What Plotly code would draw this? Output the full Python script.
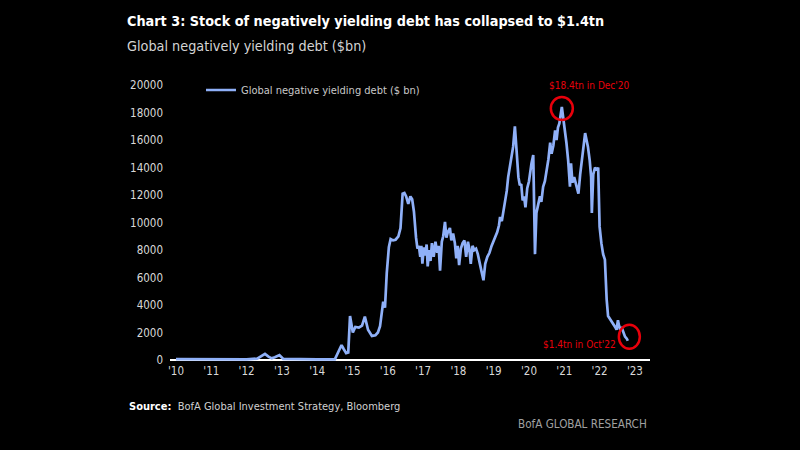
import plotly.graph_objects as go

# ---- data ----
years = [
    2010.0, 2010.5, 2011.0, 2011.5, 2012.0, 2012.3, 2012.45, 2012.52, 2012.62, 2012.71,
    2012.8, 2012.93, 2013.04, 2013.5, 2014.0, 2014.5, 2014.55, 2014.62, 2014.69, 2014.75,
    2014.82, 2014.88, 2014.93, 2015.01, 2015.08, 2015.18, 2015.27, 2015.35, 2015.44, 2015.55,
    2015.65, 2015.72, 2015.78, 2015.87, 2015.92, 2015.97, 2016.03, 2016.08, 2016.15, 2016.22,
    2016.3, 2016.36, 2016.42, 2016.47, 2016.52, 2016.58, 2016.64, 2016.69, 2016.74, 2016.8,
    2016.84, 2016.88, 2016.92, 2016.95, 2016.98, 2017.02, 2017.06, 2017.1, 2017.13, 2017.17,
    2017.21, 2017.25, 2017.3, 2017.35, 2017.4, 2017.44, 2017.48, 2017.53, 2017.57, 2017.62,
    2017.66, 2017.7, 2017.76, 2017.8, 2017.85, 2017.9, 2017.94, 2017.98, 2018.02, 2018.07,
    2018.12, 2018.17, 2018.22, 2018.27, 2018.31, 2018.35, 2018.4, 2018.45, 2018.5, 2018.55,
    2018.6, 2018.65, 2018.71, 2018.76, 2018.82, 2018.88, 2018.94, 2019.0, 2019.04, 2019.1,
    2019.15, 2019.18, 2019.23, 2019.28, 2019.32, 2019.37, 2019.41, 2019.46, 2019.5, 2019.55,
    2019.6, 2019.63, 2019.67, 2019.7, 2019.74, 2019.78, 2019.82, 2019.86, 2019.9, 2019.95,
    2020.0, 2020.03, 2020.07, 2020.12, 2020.15, 2020.17, 2020.21, 2020.26, 2020.31, 2020.35,
    2020.4, 2020.45, 2020.5, 2020.55, 2020.6, 2020.64, 2020.69, 2020.74, 2020.78, 2020.82,
    2020.86, 2020.9, 2020.93, 2020.97, 2021.02, 2021.06, 2021.11, 2021.16, 2021.19, 2021.23,
    2021.28, 2021.33, 2021.4, 2021.45, 2021.5, 2021.55, 2021.59, 2021.63, 2021.67, 2021.72,
    2021.76, 2021.78, 2021.82, 2021.87, 2021.92, 2021.96, 2022.0, 2022.05, 2022.1, 2022.15,
    2022.18, 2022.2, 2022.24, 2022.29, 2022.34, 2022.39, 2022.44, 2022.48, 2022.52, 2022.55,
    2022.58, 2022.62, 2022.67, 2022.72, 2022.77, 2022.8,
]
debt_bn = [
    60, 50, 40, 60, 50, 100, 300, 440, 250, 120,
    200, 360, 80, 50, 40, 50, 300, 700, 1090, 800,
    500, 550, 3200, 2000, 2400, 2350, 2500, 3150, 2200, 1750,
    1800, 2000, 2450, 4250, 3800, 6300, 8200, 8800, 8700, 8750,
    9000, 9600, 12100, 12150, 11900, 11350, 11900, 11700, 10800, 8900,
    8100, 8300, 7500, 8300, 7000, 8200, 7600, 8400, 6800, 8000,
    7200, 8500, 7500, 8600, 7800, 8300, 6500, 8600, 9000, 10050,
    8900, 9300, 9600, 8700, 9200, 8500, 7400, 8300, 6900, 8100,
    8500, 8700, 7500, 8600, 8100, 7000, 8300, 8000, 8100, 7700,
    7000, 6500, 5800, 7000, 7500, 7800, 8300, 8700, 9000, 9300,
    9800, 10400, 10100, 10800, 11400, 12300, 13300, 14000, 14800, 15500,
    17000, 15700, 14200, 13300, 12700, 12800, 11600, 11900, 11100, 12500,
    13000, 13800, 14300, 14900, 11000, 7700, 10700, 11300, 11900, 11500,
    12600, 13000, 13800, 14600, 15800, 15000, 15600, 16700, 16000, 16900,
    17200, 17800, 18400, 17600, 16700, 15800, 14500, 12600, 14300, 12900,
    13300, 12800, 12100, 13500, 14500, 15600, 16500, 16000, 15500, 14500,
    13300, 10700, 13500, 14000, 13800, 14000, 9700, 8500, 7700, 7300,
    5500, 4400, 3200, 3000, 2900, 2600, 2400, 2200, 2900, 2500,
    2200, 2400, 2000, 1700, 1550, 1400,
]
tick_years = list(range(2010, 2024))
tick_labels = ["'10", "'11", "'12", "'13", "'14", "'15", "'16", "'17", "'18", "'19",
               "'20", "'21", "'22", "'23"]
y_ticks = list(range(0, 20001, 2000))
y_tick_labels = [str(v) for v in y_ticks]

series_name = "Global negative yielding debt ($ bn)"
title_text = "Chart 3: Stock of negatively yielding debt has collapsed to $1.4tn"
subtitle_text = "Global negatively yielding debt ($bn)"
peak_label = "$18.4tn in Dec'20"
last_label = "$1.4tn in Oct'22"

FONT = "DejaVu Sans Condensed, Liberation Sans Narrow, sans-serif"
LINE_COLOR = "#8FB0F8"
RED = "#E8000B"

fig = go.Figure()
fig.add_trace(go.Scatter(
    x=years, y=debt_bn, mode="lines", name=series_name,
    line=dict(color=LINE_COLOR, width=2.7),
    showlegend=True,
))

peak_i = max(range(len(debt_bn)), key=debt_bn.__getitem__)
last_i = len(debt_bn) - 1

# red circles around peak and latest value
fig.add_shape(type="circle", xref="x", yref="y", xsizemode="pixel", ysizemode="pixel",
              xanchor=years[peak_i], yanchor=debt_bn[peak_i],
              x0=-11, x1=11, y0=-13, y1=10,
              line=dict(color=RED, width=2.5))
fig.add_shape(type="circle", xref="x", yref="y", xsizemode="pixel", ysizemode="pixel",
              xanchor=years[last_i], yanchor=debt_bn[last_i],
              x0=-9, x1=12, y0=-8, y1=16,
              line=dict(color=RED, width=2.5))

fig.add_annotation(x=years[peak_i], y=debt_bn[peak_i], xref="x", yref="y",
                   text=peak_label, showarrow=False, xanchor="center", yanchor="middle",
                   xshift=27, yshift=22, font=dict(family=FONT, size=10, color=RED))
fig.add_annotation(x=years[last_i], y=debt_bn[last_i], xref="x", yref="y",
                   text=last_label, showarrow=False, xanchor="right", yanchor="middle",
                   xshift=-10, yshift=-4, font=dict(family=FONT, size=10, color=RED))

# title, subtitle, source, branding (paper coords)
L, R, T, B = 170, 150, 80, 88
W, H = 800, 450
pw, ph = W - L - R, H - T - B


def px(xp):
    return (xp - L) / pw


def py(yp):
    return (H - B - yp) / ph


fig.add_annotation(x=px(125), y=py(21), xref="paper", yref="paper", text="<b>" + title_text + "</b>",
                   showarrow=False, xanchor="left", yanchor="middle",
                   font=dict(family=FONT, size=14.3, color="#FFFFFF"))
fig.add_annotation(x=px(125), y=py(46), xref="paper", yref="paper", text=subtitle_text,
                   showarrow=False, xanchor="left", yanchor="middle",
                   font=dict(family=FONT, size=14.3, color="#D4D4D4"))
fig.add_annotation(x=px(127), y=py(406), xref="paper", yref="paper",
                   text="<b>Source:</b>  <span style='color:#D0D0D0'>BofA Global Investment Strategy, Bloomberg</span>",
                   showarrow=False, xanchor="left", yanchor="middle",
                   font=dict(family=FONT, size=11, color="#FFFFFF"))
fig.add_annotation(x=px(649), y=py(424), xref="paper", yref="paper", text="BofA GLOBAL RESEARCH",
                   showarrow=False, xanchor="right", yanchor="middle",
                   font=dict(family=FONT, size=11.6, color="#A0A0A0"))

x_scale = 35.3  # px per year
x0 = 2010 - (176 - L) / x_scale
x1 = x0 + pw / x_scale
y_scale = 275 / 20000
y_bottom = -(H - B - 360) / y_scale
y_top = y_bottom + ph / y_scale

fig.update_layout(
    width=W, height=H,
    margin=dict(l=L, r=R, t=T, b=B, pad=0),
    paper_bgcolor="#000000", plot_bgcolor="#000000",
    font=dict(family=FONT, size=11.5, color="#D8D8D8"),
    showlegend=True,
    legend=dict(x=px(201), y=py(90), xanchor="left", yanchor="middle",
                bgcolor="rgba(0,0,0,0)", borderwidth=0,
                font=dict(family=FONT, size=11, color="#C8C8C8"),
                itemwidth=30),
    xaxis=dict(range=[x0, x1], tickmode="array", tickvals=tick_years, ticktext=tick_labels,
               showgrid=False, zeroline=False, showline=False, ticks="",
               tickfont=dict(family=FONT, size=11.5, color="#D8D8D8")),
    yaxis=dict(range=[y_bottom, y_top], tickmode="array", tickvals=y_ticks, ticktext=y_tick_labels,
               showgrid=False, zeroline=True, zerolinecolor="#FFFFFF", zerolinewidth=1.5,
               showline=False, ticks="", ticklabelstandoff=6,
               tickfont=dict(family=FONT, size=11.5, color="#D8D8D8")),
)

fig.write_html(
    "out.html",
    config={"displayModeBar": False},
    post_script="document.body.style.margin='0';document.body.style.background='#000';",
)
